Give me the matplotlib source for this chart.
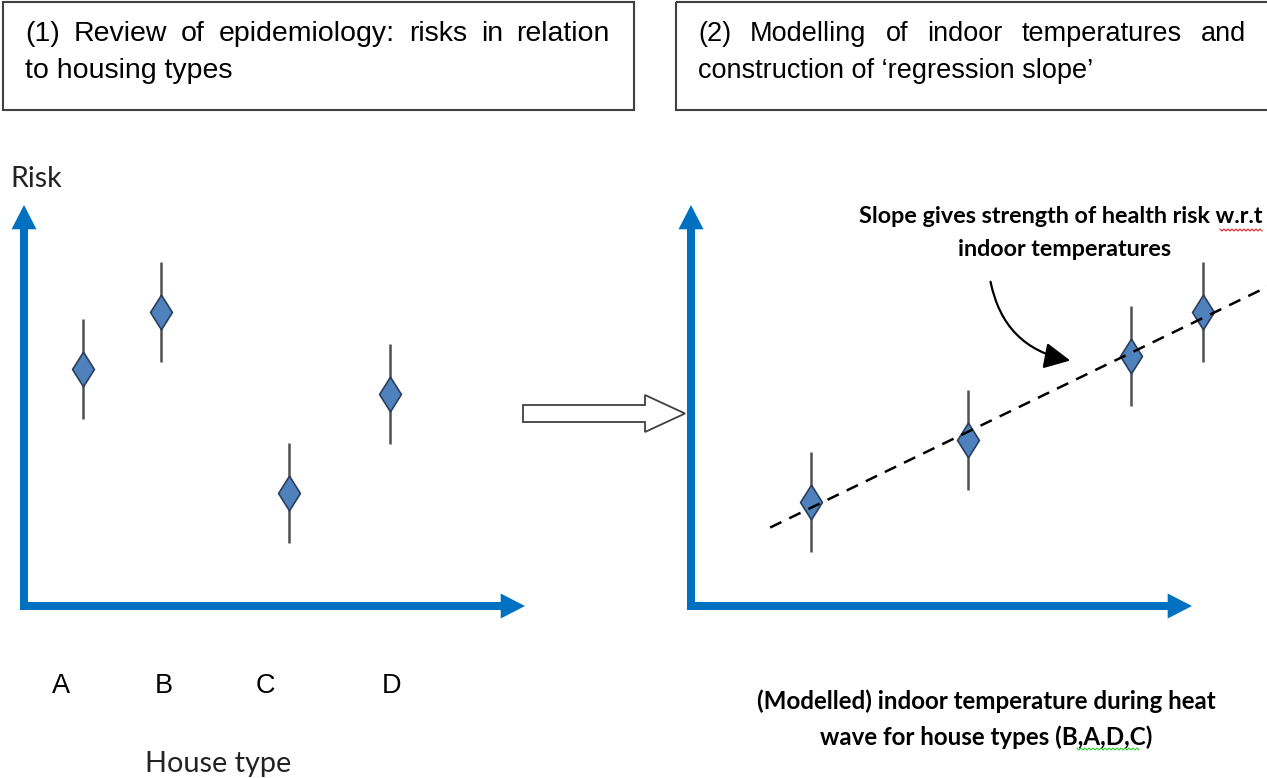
"""
Two-step sketch: house-type risks, then risk vs modelled indoor temperature
"""

import numpy as np
import matplotlib
matplotlib.use('Agg')
import matplotlib.pyplot as plt
from matplotlib.patches import Rectangle, FancyArrow, FancyArrowPatch

# Panel 1: risk by house type (arbitrary units)
house_types = ['A', 'B', 'C', 'D']
house_x = [1.18, 2.73, 5.29, 7.31]
house_risk = [5.91, 7.33, 2.82, 5.29]
house_err = [1.24, 1.24, 1.24, 1.24]
house_label_x = [0.74, 2.79, 4.81, 7.33]

# Panel 2: risk vs modelled indoor temperature
temp_x = [2.40, 5.53, 8.78, 10.22]
temp_risk = [2.59, 4.14, 6.23, 7.33]
temp_err = [1.24, 1.24, 1.24, 1.24]
fit_x = [1.58, 11.8]

BLUE = '#0070C0'
MARK = '#4F81BD'
SANS = ['Lato', 'DejaVu Sans']
ARIAL = ['Liberation Sans', 'DejaVu Sans']
DIAMOND = [(0, 1), (0.63, 0), (0, -1), (-0.63, 0), (0, 1)]

W, H = 1267, 778
fig = plt.figure(figsize=(W / 100, H / 100), dpi=100)

# background layer in pixel units for boxes and free text
bg = fig.add_axes([0, 0, 1, 1])
bg.set_xlim(0, W)
bg.set_ylim(H, 0)
bg.axis('off')


def panel(x0, y0, x1, y1, xmax):
    # x0,y0 = axis corner in pixels, x1 = right edge, y1 = top (arrow tip)
    ax = fig.add_axes([x0 / W, (H - y0) / H, (x1 - x0) / W, (y0 - y1) / H])
    ax.set_xlim(0, xmax)
    ax.set_ylim(0, 10)
    ax.patch.set_alpha(0)
    for s in ax.spines.values():
        s.set_visible(False)
    ax.set_xticks([])
    ax.set_yticks([])
    return ax


def axis_arrows(ax, x_tip):
    arrow = dict(arrowstyle='simple,head_length=1.75,head_width=1.8,tail_width=0.58',
                 fc=BLUE, ec='none', lw=0, mutation_scale=10, shrinkA=0, shrinkB=0)
    bb = ax.get_position()
    hx = 4 / (bb.width * W)
    hy = 4 / (bb.height * H)
    ax.annotate('', xy=(0, 1), xytext=(0, -hy), xycoords='axes fraction',
                arrowprops=arrow, annotation_clip=False)
    ax.annotate('', xy=(x_tip, 0), xytext=(-hx, 0), xycoords='axes fraction',
                arrowprops=arrow, annotation_clip=False)


def points(ax, xs, ys, errs):
    ax.errorbar(xs, ys, yerr=errs, fmt='none', ecolor='#505050',
                elinewidth=1.8, capsize=0, zorder=2)
    ax.plot(xs, ys, marker=DIAMOND, ls='none', ms=25, mfc=MARK,
            mec='#2B3F5C', mew=1.2, zorder=3)


def justified(x0, x1, y, line, **kw):
    words = line.split()
    texts = [bg.text(0, y, w, **kw) for w in words]
    r = fig.canvas.get_renderer()
    widths = [t.get_window_extent(r).width for t in texts]
    gap = ((x1 - x0) - sum(widths)) / (len(words) - 1)
    x = x0
    for t, w in zip(texts, widths):
        t.set_x(x)
        x += w + gap


def squiggle(x0, x1, y, color):
    xs = np.arange(x0, x1 + 0.1, 2.0)
    ys = y + np.where(np.arange(len(xs)) % 2 == 0, -1.0, 1.0)
    bg.plot(xs, ys, color=color, lw=0.8)


# header boxes
bg.add_patch(Rectangle((3, 2), 631, 108, fill=False, ec='#404040', lw=1.5))
bg.add_patch(Rectangle((676, 2), 700, 108, fill=False, ec='#404040', lw=1.5))
hdr = dict(family=ARIAL, color='black', va='baseline')
justified(25, 610, 41, '(1) Review of epidemiology:  risks in relation', fontsize=20.5, **hdr)
bg.text(25, 78, 'to housing types', fontsize=20.5, **hdr)
justified(698, 1246, 41, '(2) Modelling of indoor temperatures and', fontsize=19.5, **hdr)
bg.text(698, 78, 'construction of \u2018regression slope\u2019', fontsize=19.5, **hdr)

# left panel
ax1 = panel(24, 606, 525, 205, 10)
axis_arrows(ax1, 1.0)
points(ax1, house_x, house_risk, house_err)
ax1.set_xticks(house_label_x, house_types, family=ARIAL, fontsize=19.5)
ax1.tick_params(axis='x', length=0, pad=48)

bg.text(10, 187, 'Risk', family=SANS, fontsize=20.5, color='#222222', va='baseline')
bg.text(218, 772, 'House type', family=SANS, fontsize=20.8, color='#222222',
        ha='center', va='baseline')

# block arrow between panels
bg.add_patch(FancyArrow(523, 413.5, 162, 0, width=17, head_width=37, head_length=40,
                        length_includes_head=True, fc='white', ec='#404040', lw=1.3))

# right panel
ax2 = panel(691, 606, W, 205, 11.5)
axis_arrows(ax2, (1192 - 691) / (W - 691))
points(ax2, temp_x, temp_risk, temp_err)
slope, icpt = np.polyfit(temp_x, temp_risk, 1)
ax2.plot(fit_x, [slope * v + icpt for v in fit_x], color='black', lw=1.8,
         dashes=(5, 3.5), zorder=4)

note = dict(family=SANS, fontweight='bold', color='black', ha='center', va='baseline')
bg.text(1061, 223, 'Slope gives strength of health risk w.r.t', fontsize=16.8, **note)
bg.text(1065, 256, 'indoor temperatures', fontsize=16.8, **note)
squiggle(1220, 1262, 230, '#E02020')
bg.add_patch(FancyArrowPatch((990, 279), (1073, 361),
                             connectionstyle='arc3,rad=0.35',
                             arrowstyle='-|>,head_length=0.8,head_width=0.4',
                             mutation_scale=20, color='black', lw=1.6))

bg.text(986, 709, '(Modelled) indoor temperature during heat', fontsize=17.4, **note)
bg.text(986, 745, 'wave for house types (B,A,D,C)', fontsize=17.4, **note)
squiggle(1077, 1139, 749, '#30D030')

fig.savefig('out.png', dpi=100)
